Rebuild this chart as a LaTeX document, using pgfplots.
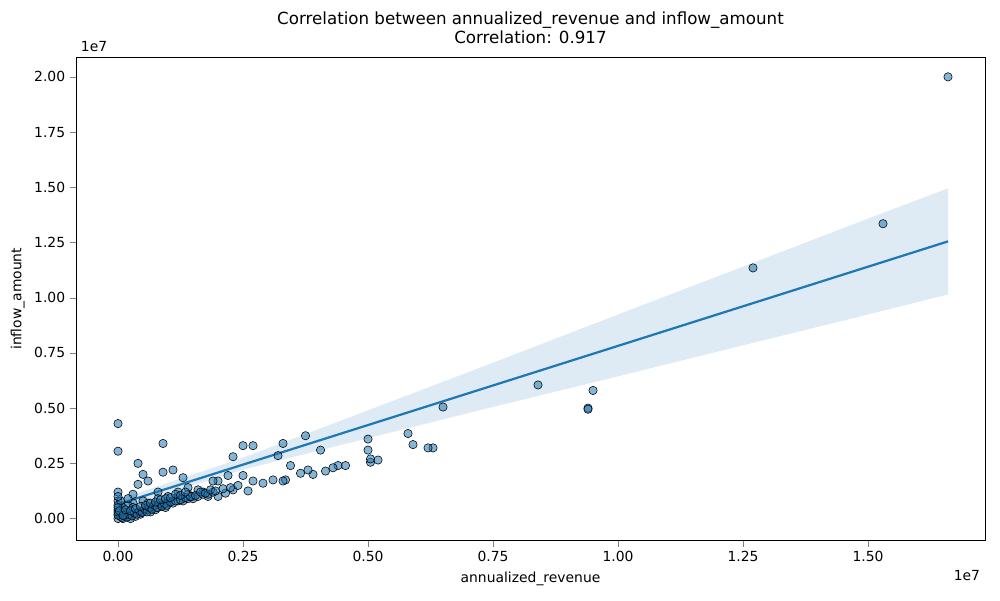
\documentclass[border=0pt]{standalone}
\usepackage{fontspec}
\setmainfont{DejaVu Sans}
\usepackage{pgfplots}
\pgfplotsset{compat=1.18}
\usetikzlibrary{calc}
\definecolor{sb}{HTML}{1F77B4}
\begin{document}
\begin{tikzpicture}
\begin{axis}[name=ax, scale only axis, width=654pt, height=348pt,
 xmin=-0.084, xmax=1.734, ymin=-0.1, ymax=2.09,
 xtick={0,0.25,0.5,0.75,1,1.25,1.5}, ytick={0,0.25,0.5,0.75,1,1.25,1.5,1.75,2},
 xticklabel style={/pgf/number format/.cd,fixed,fixed zerofill,precision=2},
 yticklabel style={/pgf/number format/.cd,fixed,fixed zerofill,precision=2},
 /pgf/number format/assume math mode=true,
 tick label style={font=\fontsize{10}{12}\selectfont},
 label style={font=\fontsize{10}{12}\selectfont},
 xlabel={annualized\_revenue}, ylabel={inflow\_amount},
 title style={font=\fontsize{12}{14}\selectfont, align=center},
 title={Correlation between annualized\_revenue and inflow\_amount\\Correlation: 0.917},
 tick align=outside, tick pos=left, clip=false]
\addplot[fill=sb, fill opacity=0.15, draw=none] coordinates {
(0,0.086)(0.25,0.2755)(0.5,0.49)(0.75,0.7055)(1,0.924)(1.25,1.1405)(1.5,1.358)(1.66,1.495)
(1.66,1.015)(1.5,0.924)(1.25,0.7845)(1,0.644)(0.75,0.5055)(0.5,0.364)(0.25,0.2215)(0,0.044)} -- cycle;
\addplot[only marks, mark=*, mark size=3pt, mark options={draw=none, fill=sb, fill opacity=0.55}] coordinates {
(1.66,2.0)(1.53,1.335)(1.27,1.135)(0.95,0.58)(0.94,0.50)(0.94,0.495)(0.84,0.605)(0.65,0.505)
(0.63,0.32)(0.62,0.32)(0.59,0.335)(0.58,0.385)(0.52,0.265)(0.505,0.255)(0.50,0.36)(0.50,0.31)
(0.505,0.27)(0.455,0.24)(0.44,0.24)(0.43,0.23)(0.415,0.215)(0.405,0.31)(0.39,0.2)(0.38,0.22)
(0.375,0.375)(0.365,0.205)(0.345,0.24)(0.335,0.175)(0.33,0.17)(0.33,0.34)(0.32,0.285)(0.31,0.175)
(0.29,0.16)(0.27,0.17)(0.27,0.33)(0.25,0.33)(0.25,0.195)(0.26,0.125)(0.23,0.28)(0.23,0.13)
(0.22,0.195)(0.215,0.115)(0.20,0.17)(0.20,0.1)(0.19,0.17)(0.18,0.1)(0.17,0.12)(0.15,0.1)
(0.14,0.14)(0.13,0.185)(0.13,0.09)(0.12,0.1)(0.11,0.22)(0.1,0.08)(0.09,0.21)(0.09,0.34)
(0.08,0.12)(0.07,0.06)(0.06,0.17)(0.05,0.2)(0.04,0.25)(0.04,0.155)(0.03,0.11)(0.0,0.43)
(0.0,0.305)(0.0,0.12)(0.0,0.08)(0.01,0.05)(0.02,0.03)(0.03,0.07)(0.0,0.0)(0.005,0.01)
(0.01,0.0)(0.015,0.02)(0.02,0.01)(0.025,0.0)(0.03,0.02)(0.035,0.01)(0.04,0.03)(0.045,0.02)
(0.05,0.03)(0.055,0.04)(0.06,0.04)(0.065,0.03)(0.07,0.05)(0.075,0.04)(0.08,0.05)(0.085,0.06)
(0.09,0.06)(0.095,0.05)(0.1,0.07)(0.11,0.07)(0.12,0.08)(0.13,0.08)(0.14,0.09)(0.15,0.09)
(0.16,0.10)(0.17,0.11)(0.18,0.11)(0.19,0.12)(0.0,0.04)(0.0,0.02)(0.01,0.03)(0.02,0.06)
(0.03,0.05)(0.05,0.08)(0.06,0.07)(0.08,0.09)(0.1,0.1)(0.12,0.12)(0.14,0.11)(0.16,0.13)
(0.0,0.06)(0.005,0.08)(0.0,0.1)(0.02,0.09)
(0.008,0.005)(0.012,0.012)(0.018,0.006)(0.022,0.018)(0.028,0.012)(0.033,0.025)(0.038,0.02)
(0.043,0.035)(0.048,0.028)(0.053,0.045)(0.058,0.03)(0.063,0.05)(0.068,0.042)(0.073,0.06)
(0.078,0.05)(0.083,0.07)(0.088,0.055)(0.093,0.068)(0.098,0.06)(0.105,0.075)(0.115,0.08)
(0.125,0.085)(0.135,0.095)(0.145,0.1)(0.155,0.105)(0.165,0.12)(0.175,0.115)(0.185,0.13)
(0.195,0.125)(0.21,0.135)(0.225,0.14)(0.24,0.15)(0.0,0.015)(0.0,0.03)(0.0,0.05)(0.003,0.035)
(0.01,0.015)(0.015,0.04)(0.025,0.035)(0.035,0.045)(0.045,0.055)(0.055,0.06)(0.065,0.07)
(0.075,0.075)(0.085,0.085)(0.095,0.09)(0.105,0.095)(0.115,0.11)(0.125,0.105)(0.135,0.12)};
\addplot[sb, line width=1.6pt] coordinates {(0,0.065)(1.66,1.255)};
\end{axis}
\node[anchor=south west, font=\fontsize{10}{12}\selectfont] at (ax.north west) {1e7};
\node[anchor=north east, font=\fontsize{10}{12}\selectfont] at ($(ax.south east)+(0,-18pt)$) {1e7};
\pgfresetboundingbox
\path[use as bounding box] ($(ax.south west)+(-54.7pt,-43.2pt)$) rectangle ($(ax.north east)+(10.8pt,41pt)$);
\end{tikzpicture}
\end{document}
